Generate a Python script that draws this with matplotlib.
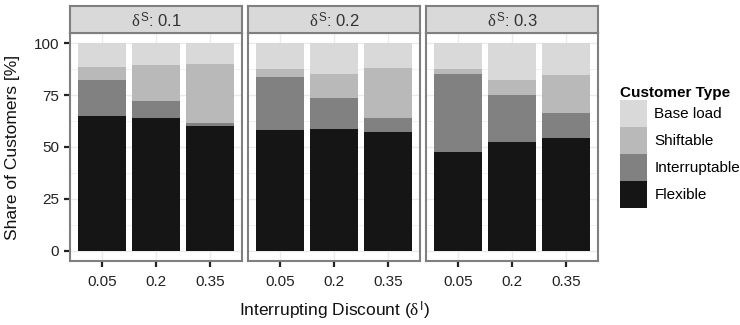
import matplotlib
matplotlib.use("Agg")
import matplotlib.pyplot as plt
from matplotlib.patches import Patch
import numpy as np

plt.rcParams['font.family'] = ['Liberation Sans', 'DejaVu Sans']
plt.rcParams['mathtext.fontset'] = 'custom'
plt.rcParams['mathtext.rm'] = 'Liberation Sans'
plt.rcParams['mathtext.it'] = 'Liberation Serif'
plt.rcParams['mathtext.sf'] = 'Liberation Sans'

panels = ["0.1", "0.2", "0.3"]
discounts = ["0.05", "0.2", "0.35"]
types = ["Flexible", "Interruptable", "Shiftable", "Base load"]
colors = ["#151515", "#818181", "#b8b9b8", "#d9d9d9"]

flexible = [[64.8, 63.8, 60.0], [58.0, 58.5, 57.1], [47.5, 52.3, 54.2]]
interruptable = [[17.3, 8.6, 1.4], [26.0, 14.9, 6.7], [37.5, 23.0, 12.0]]
shiftable = [[6.7, 17.4, 28.8], [3.7, 12.0, 24.5], [2.4, 6.8, 18.3]]
base_load = [[11.2, 10.2, 9.8], [12.3, 14.6, 11.7], [12.6, 17.9, 15.5]]

W, H = 740, 325
fig = plt.figure(figsize=(W / 100, H / 100), dpi=100)

panel_x = [(70, 242), (248, 420), (426, 598)]
ptop, pbot = 33, 261
strip_top = 6

grid_c = "#ebebeb"
border_c = "#7f7f7f"

for i, (x0, x1) in enumerate(panel_x):
    ax = fig.add_axes([x0 / W, 1 - pbot / H, (x1 - x0) / W, (pbot - ptop) / H])
    xs = np.arange(len(discounts))
    bottom = np.zeros(len(discounts))
    for vals, c in zip([flexible, interruptable, shiftable, base_load], colors):
        v = np.array(vals[i])
        ax.bar(xs, v, bottom=bottom, width=0.9, color=c, zorder=3, linewidth=0)
        bottom += v
    ax.set_xlim(-0.6, 2.6)
    ax.set_ylim(-5, 105)
    ax.set_yticks([0, 25, 50, 75, 100])
    ax.set_yticks([12.5, 37.5, 62.5, 87.5], minor=True)
    ax.set_xticks(xs)
    ax.set_xticklabels(discounts, fontsize=11, color="#222222")
    ax.grid(True, which='major', color=grid_c, lw=1.0, zorder=0)
    ax.grid(True, which='minor', axis='y', color=grid_c, lw=0.5, zorder=0)
    ax.tick_params(axis='both', which='major', length=4, width=1.6, color="#222222")
    ax.tick_params(axis='x', which='major', pad=6)
    ax.tick_params(axis='y', which='major', pad=4)
    ax.tick_params(axis='y', which='minor', length=0)
    if i == 0:
        ax.set_yticklabels(["0", "25", "50", "75", "100"], fontsize=11, color="#222222")
    else:
        ax.tick_params(axis='y', which='major', length=0, labelleft=False)
    for s in ax.spines.values():
        s.set_color(border_c)
        s.set_linewidth(1.5)
    # strip
    sax = fig.add_axes([x0 / W, 1 - ptop / H, (x1 - x0) / W, (ptop - strip_top) / H])
    sax.set_facecolor("#d9d9d9")
    sax.set_xticks([])
    sax.set_yticks([])
    for s in sax.spines.values():
        s.set_color(border_c)
        s.set_linewidth(1.5)
    sax.text(0.5, 0.45, r"$\delta^{\mathrm{S}}$" + ": " + panels[i], transform=sax.transAxes,
             ha='center', va='center', fontsize=12, color="#333333")

fig.text(13 / W, 1 - 147 / H, "Share of Customers [%]", rotation=90, ha='center', va='center',
         fontsize=12.5, color="#111111")
fig.text(334 / W, 1 - 311 / H, r"Interrupting Discount ($\delta^{\mathrm{I}}$)", ha='center', va='center',
         fontsize=12.5, color="#111111")

handles = [Patch(facecolor=c, edgecolor='none') for c in colors][::-1]
labels = types[::-1]
leg = fig.legend(handles, labels, loc='upper left', bbox_to_anchor=(620 / W, 1 - 86 / H),
                 frameon=False, title="Customer Type", fontsize=11,
                 title_fontproperties={'weight': 'bold', 'size': 11},
                 handlelength=1.75, handleheight=2.35, labelspacing=0.0,
                 handletextpad=0.5, borderaxespad=0, borderpad=0)
leg._legend_box.align = "left"

fig.savefig("out.png", dpi=100)
